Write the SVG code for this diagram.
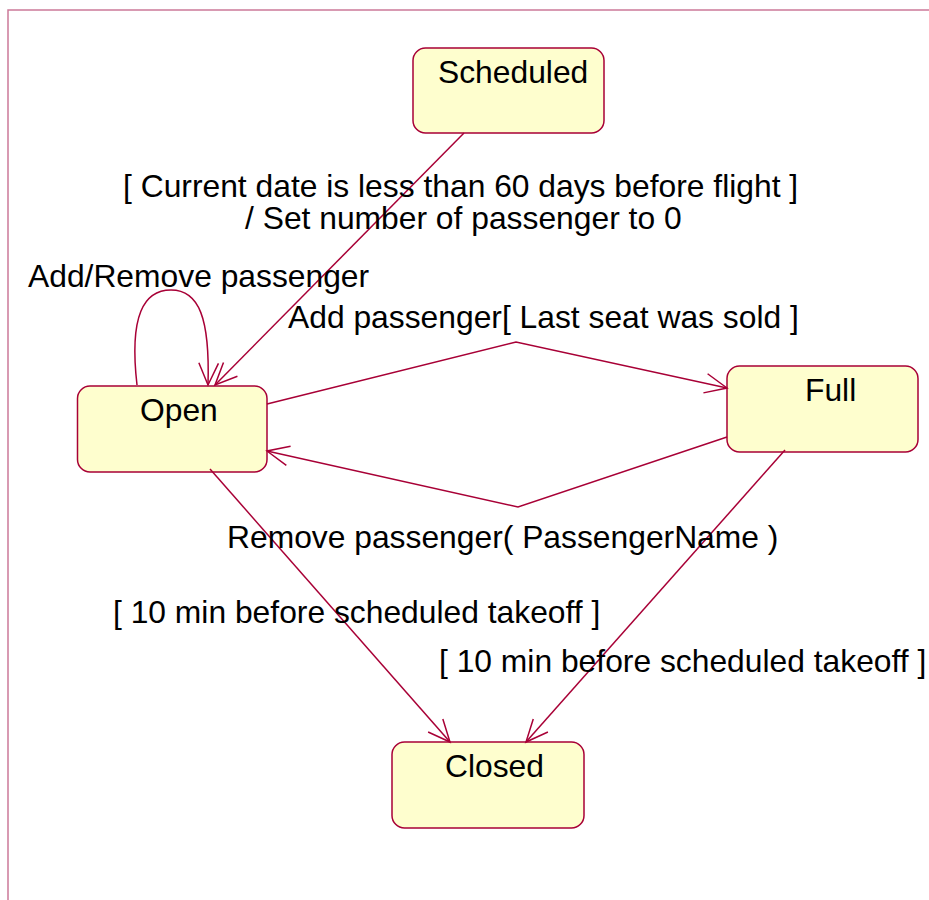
<svg xmlns="http://www.w3.org/2000/svg" width="929" height="900" viewBox="0 0 929 900">
<defs>
<style>
.node rect{fill:#fefece;stroke:#a80036;stroke-width:1.5}
text{font-family:"Liberation Sans",Arial,Helvetica,sans-serif;font-size:31.8px;fill:#000}
.edge{fill:none;stroke:#a80036;stroke-width:1.5;marker-end:url(#arr)}
</style>
<marker id="arr" markerUnits="userSpaceOnUse" orient="auto" refX="0" refY="0" markerWidth="40" markerHeight="40" viewBox="-30 -20 40 40" overflow="visible">
<path d="M-22,-9.8 L0,0 L-22,9.8" fill="none" stroke="#a80036" stroke-width="1.5"/>
</marker>
</defs>
<rect width="929" height="900" fill="#fff"/>
<path d="M8,900 V10 H929" fill="none" stroke="#cc7a99" stroke-width="1.5"/>
<g id="Scheduled" class="node"><rect x="413" y="48" width="191" height="85" rx="12.5"/><text x="438" y="83">Scheduled</text></g>
<g id="Open" class="node"><rect x="77.5" y="386" width="189.5" height="86" rx="12.5"/><text x="140" y="421">Open</text></g>
<g id="Full" class="node"><rect x="727" y="366" width="191" height="86" rx="12.5"/><text x="805" y="401">Full</text></g>
<g id="Closed" class="node"><rect x="392" y="742" width="192" height="86" rx="12.5"/><text x="445" y="777">Closed</text></g>
<g id="connectors">
<path class="edge" d="M464,133 L215,385"/>
<path class="edge" d="M137,385 C129,315 144,290 171,290 C199,290 210,318 208,385"/>
<path class="edge" d="M267,404 L516,342 L727,388"/>
<path class="edge" d="M727,437 L518,507 L267,451"/>
<path class="edge" d="M210,469 L450,742"/>
<path class="edge" d="M785,450 L526,742"/>
</g>
<g id="labels">
<text x="123" y="197">[ Current date is less than 60 days before flight ]</text>
<text x="245" y="229">/ Set number of passenger to 0</text>
<text x="28" y="287">Add/Remove passenger</text>
<text x="288" y="328">Add passenger[ Last seat was sold ]</text>
<text x="227" y="548">Remove passenger( PassengerName )</text>
<text x="113" y="623">[ 10 min before scheduled takeoff ]</text>
<text x="439" y="672">[ 10 min before scheduled takeoff ]</text>
</g>
</svg>
